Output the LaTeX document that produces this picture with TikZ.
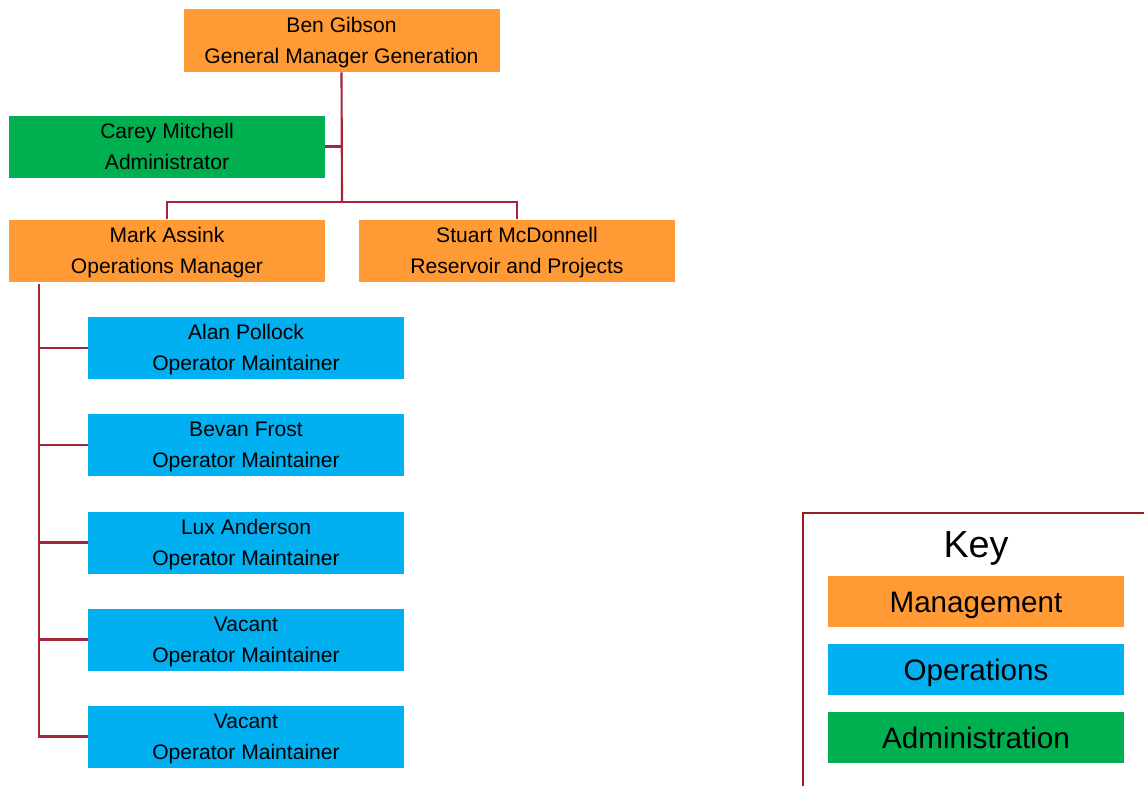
\documentclass[tikz,border=0pt]{standalone}
\usepackage{fontspec}
\setmainfont{Liberation Sans}
\definecolor{mgmt}{HTML}{FF9A35}
\definecolor{ops}{HTML}{00B0F0}
\definecolor{adm}{HTML}{00AF50}
\definecolor{conn}{HTML}{A8243A}
\definecolor{keyb}{HTML}{9B1B20}
\newcommand{\topstrut}{\rule{0pt}{14.95pt}}
\newcommand{\botstrut}{\rule[-4pt]{0pt}{4pt}}
\newcommand{\twol}[2]{\topstrut#1\\#2\botstrut}
\tikzset{
  box/.style={minimum width=237pt, minimum height=46.5pt, inner sep=0pt, align=center,
    font=\fontsize{15.8}{23.25}\selectfont},
  mbox/.style={box, fill=mgmt},
  obox/.style={box, fill=ops},
  abox/.style={box, fill=adm},
  kbox/.style={minimum width=222pt, minimum height=38.5pt, inner sep=0pt,
    text height=21pt, text depth=3.8pt, font=\fontsize{22.2}{26}\selectfont},
  link/.style={draw=conn, line width=1.6pt},
}
\begin{document}
\begin{tikzpicture}[x=0.75pt,y=-0.75pt]
\useasboundingbox (0,0) rectangle (1144,785);
\node[mbox, minimum height=47.25pt] (ben) at (341.5,40.5) {\twol{Ben Gibson}{General Manager Generation}};
\node[abox] (carey) at (167,146.5) {\twol{Carey Mitchell}{Administrator}};
\node[mbox] (mark) at (167,250.5) {\twol{Mark Assink}{Operations Manager}};
\node[mbox] (stuart) at (517,250.5) {\twol{Stuart McDonnell}{Reservoir and Projects}};
\node[obox] (o1) at (246,348) {\twol{Alan Pollock}{Operator Maintainer}};
\node[obox] (o2) at (246,445) {\twol{Bevan Frost}{Operator Maintainer}};
\node[obox] (o3) at (246,542.5) {\twol{Lux Anderson}{Operator Maintainer}};
\node[obox] (o4) at (246,639.5) {\twol{Vacant}{Operator Maintainer}};
\node[obox] (o5) at (246,736.5) {\twol{Vacant}{Operator Maintainer}};

\coordinate (j) at (342,202);
\coordinate (mk) at (39,284);
\draw[link] (ben.south) -- (j);
\draw[link] (carey.east) -- (carey.east -| j);
\draw[link] (mark.north) |- (j) -| (stuart.north);
\draw[link] (mk) |- (o5.west);
\foreach \n in {o1,o2,o3,o4} \draw[link] (\n.west -| mk) -- (\n.west);

% key
\coordinate (kt) at (803,513);
\draw[draw=keyb, line width=1.5pt] (803,790) -- (kt) -- (1150,513);
\node[font=\fontsize{28.3}{32}\selectfont, anchor=base, inner sep=0pt] (key) at (976,557.3) {Key};
\node[kbox, fill=mgmt] (k1) at (976,601.5) {Management};
\node[kbox, fill=ops] (k2) at (976,669.5) {Operations};
\node[kbox, fill=adm] (k3) at (976,737.5) {Administration};
\end{tikzpicture}
\end{document}
